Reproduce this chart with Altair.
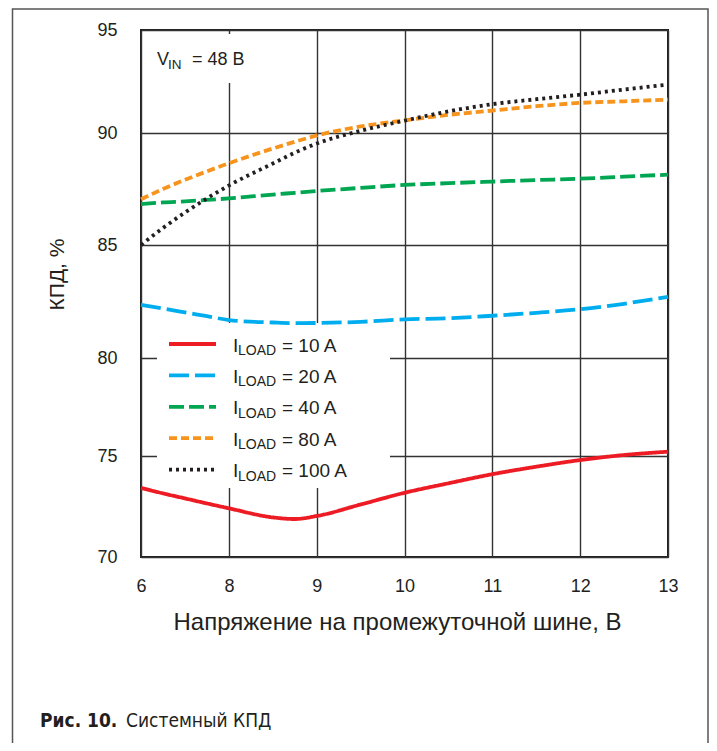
import altair as alt
import pandas as pd

# ---- data ----
x_volts = [6, 6.5, 7, 7.5, 8, 8.5, 8.75, 9, 9.5, 10, 10.5, 11, 11.5, 12, 12.5, 13]
eff_10a = [73.42, 73.15, 72.90, 72.65, 72.41, 71.96, 71.88, 72.03, 72.60, 73.18, 73.65, 74.10, 74.47, 74.80, 75.05, 75.22]
eff_20a = [82.35, 82.19, 82.02, 81.85, 81.68, 81.57, 81.54, 81.55, 81.60, 81.71, 81.76, 81.87, 82.00, 82.16, 82.40, 82.71]
eff_40a = [86.83, 86.90, 86.95, 87.01, 87.08, 87.25, 87.33, 87.41, 87.55, 87.68, 87.76, 87.83, 87.90, 87.96, 88.05, 88.14]
eff_80a = [87.04, 87.50, 87.91, 88.29, 88.65, 89.31, 89.61, 89.89, 90.32, 90.61, 90.88, 91.09, 91.30, 91.46, 91.54, 91.62]
eff_100a = [85.00, 85.76, 86.45, 87.08, 87.66, 88.64, 89.12, 89.53, 90.11, 90.60, 91.05, 91.40, 91.64, 91.86, 92.11, 92.35]

loads = [10, 20, 40, 80, 100]
series_values = [eff_10a, eff_20a, eff_40a, eff_80a, eff_100a]
series_names = [f"ILOAD = {l} A" for l in loads]
legend_labels = [f"= {l} A" for l in loads]
colors = ["#ED1C24", "#00AEEF", "#00A651", "#F7941D", "#231F20"]
dashes = [[1, 0], [20, 6], [15, 5], [8, 4], [3, 4]]

x_ticks = [6, 8, 9, 10, 11, 12, 13]
y_ticks = [70, 75, 80, 85, 90, 95]

x_title = "Напряжение на промежуточной шине, В"
y_title = "КПД, %"
vin_label = "= 48 В"
caption_bold = "Рис. 10."
caption_text = "Системный КПД"

# ---- build table ----
rows = []
for name, vals in zip(series_names, series_values):
    for v, e in zip(x_volts, vals):
        rows.append({"v": v, "eff": e, "series": name})
df = pd.DataFrame(rows)

FONT = "Liberation Sans, Arial, Helvetica, sans-serif"
NARROW = "Liberation Sans Narrow, DejaVu Sans Condensed, Roboto Condensed, Liberation Sans, sans-serif"
INK = "#231F20"
W, H = 527, 527

one = alt.Data(values=[{}])

frame = alt.Chart(one).mark_rect(filled=False, stroke="#555555", strokeWidth=1.5).encode(
    x=alt.value(-128.5), x2=alt.value(567), y=alt.value(-21), y2=alt.value(760)
)
legend_box = alt.Chart(one).mark_rect(fill="white").encode(
    x=alt.value(16), x2=alt.value(249), y=alt.value(293), y2=alt.value(458)
)
vin_box = alt.Chart(one).mark_rect(fill="white").encode(
    x=alt.value(5), x2=alt.value(150), y=alt.value(4), y2=alt.value(53)
)

lines = alt.Chart(df).mark_line(strokeWidth=3.8, interpolate="monotone").encode(
    x=alt.X(
        "v:Q",
        scale=alt.Scale(domain=[6, 8, 13], range=[0, 88, W], nice=False, zero=False),
        axis=alt.Axis(
            values=x_ticks, grid=True, gridColor="#333333", gridWidth=1.4,
            domain=False, ticks=False, tickSize=0, labelFlush=False, labelOverlap=False,
            labelFont=FONT, labelFontSize=18, labelColor=INK, labelPadding=20,
            title=x_title, titleFont=FONT, titleFontSize=24, titleFontWeight="normal",
            titleColor=INK, titleX=256, titleY=65, titleAlign="center", titleBaseline="middle",
        ),
    ),
    y=alt.Y(
        "eff:Q",
        scale=alt.Scale(domain=y_ticks, range=[H, 426, 328, 215, 103, 0], nice=False, zero=False),
        axis=alt.Axis(
            values=y_ticks, grid=True, gridColor="#333333", gridWidth=1.4,
            domain=False, ticks=False, tickSize=0, labelFlush=False, labelOverlap=False,
            labelFont=FONT, labelFontSize=18, labelColor=INK, labelPadding=24,
            title=y_title, titleFont=FONT, titleFontSize=21, titleFontWeight="normal",
            titleColor=INK, titleX=-84, titleY=244, titleAlign="center", titleBaseline="middle",
            titleAngle=270,
        ),
    ),
    color=alt.Color("series:N", scale=alt.Scale(domain=series_names, range=colors), legend=None),
    strokeDash=alt.StrokeDash("series:N", scale=alt.Scale(domain=series_names, range=dashes), legend=None),
)

layers = [frame, legend_box, vin_box, lines]

# custom legend with subscripts
for i, (lab, col, dash) in enumerate(zip(legend_labels, colors, dashes)):
    ry = 314 + 31.4 * i
    layers.append(
        alt.Chart(one).mark_rule(stroke=col, strokeWidth=3.8, strokeDash=dash).encode(
            x=alt.value(28), x2=alt.value(75), y=alt.value(ry)
        )
    )
    layers.append(
        alt.Chart(one).mark_text(text="I", align="left", baseline="alphabetic", font=FONT,
                                 fontSize=19, color=INK).encode(x=alt.value(92), y=alt.value(ry + 7.5))
    )
    layers.append(
        alt.Chart(one).mark_text(text="LOAD", align="left", baseline="alphabetic", font=FONT,
                                 fontSize=14, color=INK).encode(x=alt.value(97), y=alt.value(ry + 11))
    )
    layers.append(
        alt.Chart(one).mark_text(text=lab, align="left", baseline="alphabetic", font=FONT,
                                 fontSize=19, color=INK).encode(x=alt.value(141), y=alt.value(ry + 7.5))
    )

# V_IN annotation
layers.append(alt.Chart(one).mark_text(text="V", align="left", baseline="alphabetic", font=FONT,
                                       fontSize=18, color=INK).encode(x=alt.value(16), y=alt.value(35)))
layers.append(alt.Chart(one).mark_text(text="IN", align="left", baseline="alphabetic", font=FONT,
                                       fontSize=13.5, color=INK).encode(x=alt.value(27), y=alt.value(38.5)))
layers.append(alt.Chart(one).mark_text(text=vin_label, align="left", baseline="alphabetic", font=FONT,
                                       fontSize=18, color=INK).encode(x=alt.value(51), y=alt.value(35)))

# caption
layers.append(alt.Chart(one).mark_text(text=caption_bold, align="left", baseline="alphabetic", font=NARROW,
                                       fontSize=19, fontWeight="bold", color=INK).encode(
    x=alt.value(-101), y=alt.value(697)))
layers.append(alt.Chart(one).mark_text(text=caption_text, align="left", baseline="alphabetic", font=NARROW,
                                       fontSize=19, color=INK).encode(
    x=alt.value(-15), y=alt.value(697)))

chart = alt.layer(*layers).properties(
    width=W, height=H,
    padding={"left": 133, "top": 22, "right": 41, "bottom": 186},
    autosize=alt.AutoSizeParams(type="none"),
    background="white",
).configure_view(stroke=INK, strokeWidth=2)

chart.save("out.html", embed_options={"renderer": "svg", "actions": False})
